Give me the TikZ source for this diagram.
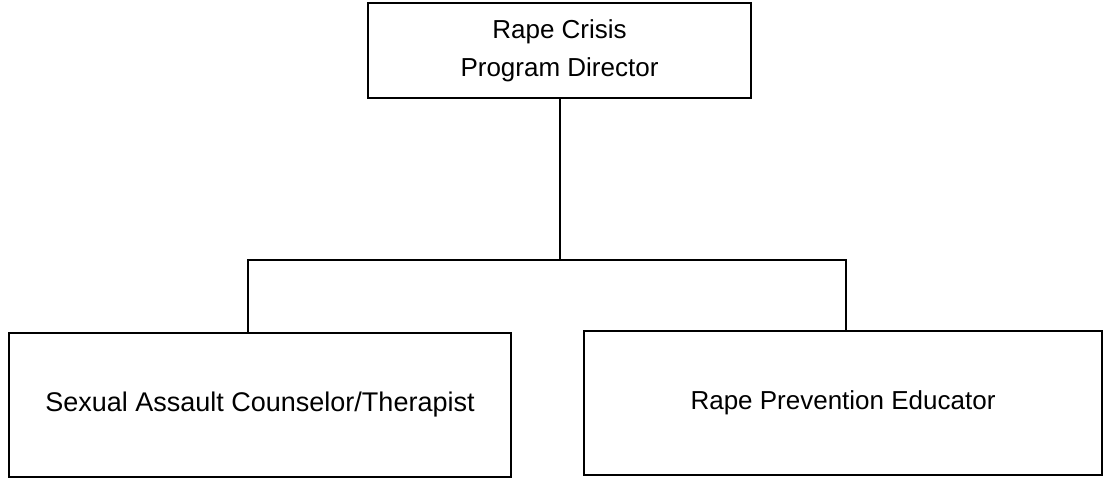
\documentclass[tikz,border=0pt]{standalone}
\usepackage{fontspec}
\setmainfont{Liberation Sans}
\begin{document}
\begin{tikzpicture}[x=1pt,y=1pt,
  orgbox/.style={draw=black, line width=2pt, fill=white, inner sep=0pt,
    align=center, anchor=center, font=\fontsize{26}{38}\selectfont},
  link/.style={draw=black, line width=2pt, line join=miter}]
  \useasboundingbox[fill=white] (0,0) rectangle (1106,-478);
  % director box
  \node[orgbox, minimum width=383pt, minimum height=95pt] (dir) at (559.5,-50.5)
    {Rape Crisis\\Program Director};
  % staff boxes
  \node[orgbox, minimum width=502pt, minimum height=144pt] (counsel) at (260,-405)
    {\fontsize{27}{38}\selectfont Sexual Assault Counselor/Therapist};
  \node[orgbox, minimum width=518pt, minimum height=144pt] (educ) at (843,-403)
    {Rape Prevention Educator};
  % bus junctions
  \coordinate (jl) at (248,-260);
  \coordinate (jr) at (846,-260);
  \draw[link] (dir.south) -- (dir.south |- jl);
  \draw[link] (counsel.north -| jl) -- (jl) -- (jr) -- (jr |- educ.north);
\end{tikzpicture}
\end{document}
